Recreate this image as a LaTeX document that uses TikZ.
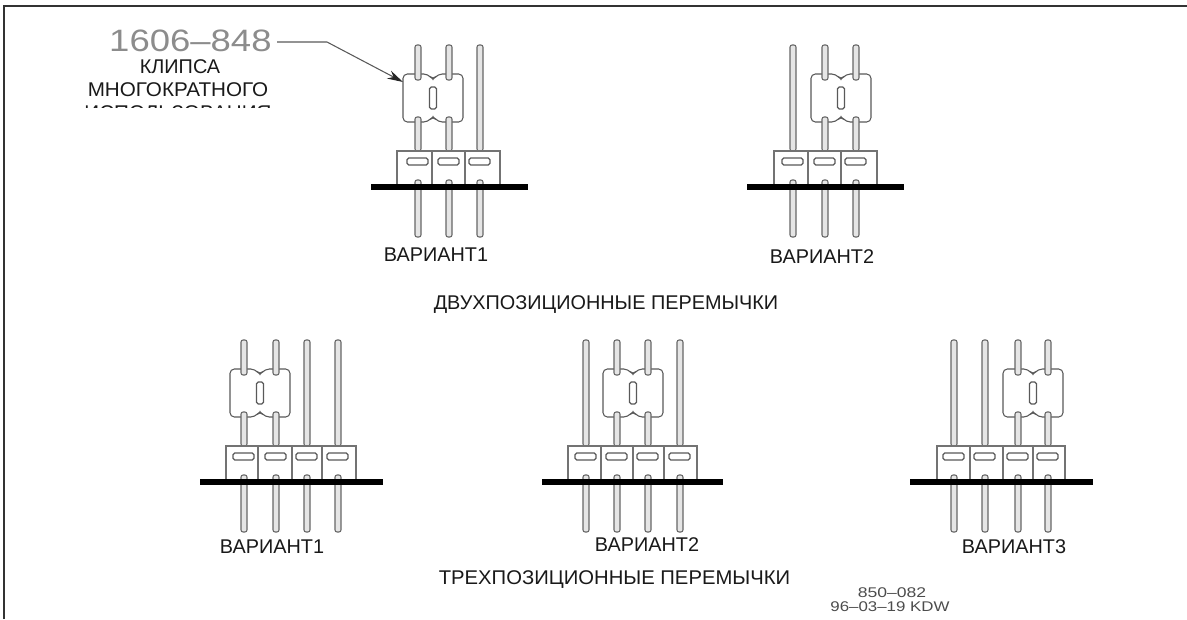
\documentclass[tikz,border=0pt]{standalone}
\usepackage{fontspec}
\setmainfont{Liberation Sans}
\usetikzlibrary{arrows.meta}

\newcommand{\Pin}[1]{
  \draw[PinStyle] (#1-3,-142) rectangle (#1+3,-36);
}
\newcommand{\HeldPin}[1]{
  \draw[PinStyle] (#1-3,-142) rectangle (#1+3,-107);
  \draw[PinStyle] (#1-3,-70) rectangle (#1+3,-36);
}
\newcommand{\Socket}[3]{
  \draw[SocketStyle] (#2,-36) rectangle (#3,-2);
  \draw[PinStyle] (#1-3,-7) rectangle (#1+3,50);
  \draw[WindowStyle] (#1-11,-29) rectangle (#1+10,-22);
}
\newcommand{\ClipBody}[1]{
  \draw[ClipStyle] (#1-30,-90) -- (#1-30,-113) -- (#1-5,-113) -- (#1,-107)
    -- (#1+5,-113) -- (#1+30,-113) -- (#1+30,-65) -- (#1+5,-65)
    -- (#1,-71) -- (#1-5,-65) -- (#1-30,-65) -- cycle;
  \draw[WindowStyle] (#1-3.5,-100) rectangle (#1+3.5,-78);
}
\newcommand{\BusBar}[2]{
  \draw[BarStyle] (#1,0) -- (#2,0);
}

\begin{document}
\begin{tikzpicture}[x=0.02cm, y=-0.02cm]

  \tikzset{PinStyle/.style = {
  draw = black!60,
  fill = black!10,
  line width = 0.6pt,
  rounded corners = 1.2pt}}
  \tikzset{SocketStyle/.style = {
  draw = black!55,
  fill = white,
  line width = 0.6pt}}
  \tikzset{WindowStyle/.style = {
  draw = black!65,
  fill = white,
  line width = 0.7pt,
  rounded corners = 1pt}}
  \tikzset{ClipStyle/.style = {
  draw = black!65,
  fill = white,
  line width = 0.6pt,
  rounded corners = 2.5pt}}
  \tikzset{BarStyle/.style = {
  draw = black,
  line width = 3.2pt}}
  \tikzset{LabelStyle/.style = {
  inner sep = 0pt,
  font = \fontsize{11.3}{11.3}\selectfont,
  text = black!90}}
  \tikzset{LeaderStyle/.style = {
  draw = black!65,
  line width = 0.6pt,
  -{Stealth[length=9pt, width=5pt, black!85]}}}

  \useasboundingbox (0,0) rectangle (1187,619);
  \draw[black!80, line width=1.5pt] (4,619) -- (4,6) -- (1187,6);

  \begin{scope}[shift={(0,187)}]
    \Pin{480}
    \ClipBody{433}
    \HeldPin{418}
    \HeldPin{449}
    \Socket{418}{397}{432}
    \Socket{449}{432}{465}
    \Socket{480}{465}{500}
    \BusBar{371}{528}
  \end{scope};

  \begin{scope}[shift={(0,187)}]
    \Pin{793}
    \ClipBody{841}
    \HeldPin{825}
    \HeldPin{856}
    \Socket{793}{774}{808}
    \Socket{825}{808}{841}
    \Socket{856}{841}{877}
    \BusBar{747}{904}
  \end{scope};

  \begin{scope}[shift={(0,482)}]
    \Pin{307}
    \Pin{338}
    \ClipBody{260}
    \HeldPin{244}
    \HeldPin{276}
    \Socket{244}{226}{258}
    \Socket{276}{258}{292}
    \Socket{307}{292}{322}
    \Socket{338}{322}{356}
    \BusBar{200}{383}
  \end{scope};

  \begin{scope}[shift={(0,482)}]
    \Pin{586}
    \Pin{680}
    \ClipBody{633}
    \HeldPin{617}
    \HeldPin{648}
    \Socket{586}{568}{601}
    \Socket{617}{601}{633}
    \Socket{648}{633}{664}
    \Socket{680}{664}{697}
    \BusBar{542}{723}
  \end{scope};

  \begin{scope}[shift={(0,482)}]
    \Pin{954}
    \Pin{985}
    \ClipBody{1033}
    \HeldPin{1018}
    \HeldPin{1048}
    \Socket{954}{937}{970}
    \Socket{985}{970}{1003}
    \Socket{1018}{1003}{1033}
    \Socket{1048}{1033}{1065}
    \BusBar{910}{1093}
  \end{scope};

  \node[LabelStyle, text=black!45, xscale=1.18, font=\fontsize{17.6}{17.6}\selectfont, anchor=east] (P1) at (272,41) {1606–848};
  \node[LabelStyle] (P2) at (180,66.5) {КЛИПСА};
  \node[LabelStyle, xscale=1.04] (P3) at (178,90) {МНОГОКРАТНОГО};
  \begin{scope}
    \clip (60,100) rectangle (300,107.5);
    \node[LabelStyle, xscale=1.04] (P4) at (178,113) {ИСПОЛЬЗОВАНИЯ};
  \end{scope};
  \coordinate (K0) at (277,42);
  \coordinate (K1) at (327,42);
  \coordinate (K2) at (403,82);
  \draw[LeaderStyle] (K0) -- (K1) -- (K2);

  \node[LabelStyle] (V1) at (436,255) {ВАРИАНТ1};
  \node[LabelStyle] (V2) at (822,257) {ВАРИАНТ2};
  \node[LabelStyle] (V3) at (272,547) {ВАРИАНТ1};
  \node[LabelStyle] (V4) at (647,545) {ВАРИАНТ2};
  \node[LabelStyle] (V5) at (1014,547) {ВАРИАНТ3};
  \node[LabelStyle] (T1) at (606,305) {ДВУХПОЗИЦИОННЫЕ ПЕРЕМЫЧКИ};
  \node[LabelStyle, xscale=1.02] (T2) at (614.5,580) {ТРЕХПОЗИЦИОННЫЕ ПЕРЕМЫЧКИ};
  \node[LabelStyle, text=black!70, xscale=1.25, font=\fontsize{8}{8}\selectfont] (D1) at (892,593) {850–082};
  \node[LabelStyle, text=black!70, xscale=1.2, font=\fontsize{8}{8}\selectfont] (D2) at (890,607) {96–03–19 KDW};

\end{tikzpicture}
\end{document}
